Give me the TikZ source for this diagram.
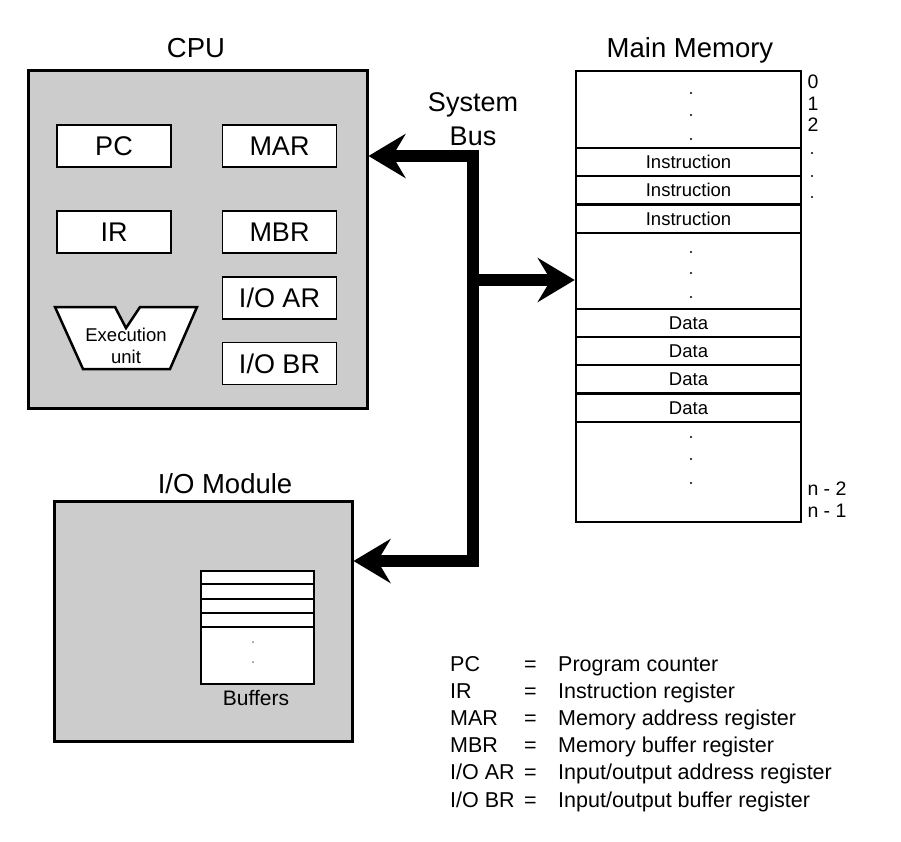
\documentclass[tikz,border=0pt]{standalone}
\usepackage{fontspec}
\setmainfont{Liberation Sans}
\usetikzlibrary{arrows.meta}
\definecolor{boxgray}{RGB}{204,204,204}
\begin{document}
\begin{tikzpicture}[x=1pt,y=-1pt,
  title/.style={font=\fontsize{27.5}{32}\selectfont, anchor=base, inner sep=0pt},
  unitbox/.style={draw, fill=boxgray, line width=3pt, inner sep=0pt},
  reg/.style={draw, fill=white, line width=1.5pt, minimum width=114pt, minimum height=42pt,
    inner sep=0pt, font=\fontsize{27}{30}\selectfont, text height=19.3pt, text depth=0pt},
  word/.style={draw, fill=white, line width=2pt, minimum width=225pt, minimum height=28pt,
    inner sep=0pt, font=\fontsize{18.5}{22}\selectfont, text height=13.2pt, text depth=0pt},
  addr/.style={inner sep=0pt, font=\fontsize{19.5}{22}\selectfont, text height=14pt, text depth=0pt},
  legend/.style={anchor=base west, inner sep=0pt, font=\fontsize{21.5}{26}\selectfont},
  bus/.style={line width=12pt, line join=miter},
  dot/.style={fill=black}
]
\useasboundingbox (0,0) rectangle (901,841);

% ---------------- CPU ----------------
\node[title] (cputitle) at (196,57) {CPU};
\node[unitbox, minimum width=339pt, minimum height=338pt] (cpu) at (197.5,239) {};
\node[reg] (pc)   at (114,146)   {PC};
\node[reg] (mar)  at (279.5,146) {MAR};
\node[reg] (ir)   at (114,232)   {IR};
\node[reg] (mbr)  at (279.5,232) {MBR};
\node[reg] (ioar) at (279.5,298) {I/O AR};
\node[reg] (iobr) at (279.5,363.5) {I/O BR};
% execution unit (ALU-style outline)
\draw[line width=2.5pt, fill=white, line join=miter]
  (55,307) -- (115,307) -- (126,328) -- (140,307) -- (197,307)
  -- (170,369) -- (83,369) -- cycle;
\node[align=center, inner sep=0pt, font=\fontsize{18.5}{22}\selectfont] (eu) at (126,346) {Execution\\unit};

% ---------------- Main memory ----------------
\node[title] (memtitle) at (690,57) {Main Memory};
\node[draw, fill=white, line width=2.5pt, minimum width=225pt, minimum height=451pt, inner sep=0pt]
  (mem) at (688.5,296.5) {};
\node[word] (i1) at (688.5,162)   {Instruction};
\node[word] (i2) at (688.5,190)   {Instruction};
\node[word] (i3) at (688.5,218.5) {Instruction};
\node[word] (d1) at (688.5,323)   {Data};
\node[word] (d2) at (688.5,351)   {Data};
\node[word] (d3) at (688.5,379)   {Data};
\node[word] (d4) at (688.5,407.5) {Data};
\foreach \yy in {93,115,139, 252,273,297, 437,459,483}
  \fill[dot] (691,\yy) circle (1.1pt);
% addresses
\node[addr] (a0) at (813,81)  {0};
\node[addr] (a1) at (813,103) {1};
\node[addr] (a2) at (813,124) {2};
\foreach \yy in {153,176,197}
  \fill[dot] (812,\yy) circle (1.1pt);
\node[addr] (an2) at (827,488) {n - 2};
\node[addr] (an1) at (827,510) {n - 1};

% ---------------- I/O module ----------------
\node[title] (iotitle) at (225,493) {I/O Module};
\node[unitbox, minimum width=298pt, minimum height=240pt] (io) at (203,621) {};
\node[draw, fill=white, line width=1.5pt, minimum width=113pt, minimum height=113pt, inner sep=0pt]
  (buf) at (257.5,627.5) {};
\foreach \yy in {584,599,613,627}
  \draw[line width=1.8pt] (buf.west |- 0,\yy) -- (buf.east |- 0,\yy);
\foreach \yy in {642,662}
  \fill[gray] (253,\yy) circle (1pt);
\node[inner sep=0pt, font=\fontsize{21}{24}\selectfont, text height=15pt, text depth=0pt]
  (buflabel) at (256,698) {Buffers};

% ---------------- System bus ----------------
\node[align=center, inner sep=0pt, font=\fontsize{27}{34}\selectfont] (bustitle) at (473,119) {System\\Bus};
\coordinate (jt) at (473,156);
\coordinate (jm) at (473,280);
\coordinate (jb) at (473,561);
\draw[bus, {Stealth[length=37pt, width=44pt, inset=13pt]}-{Stealth[length=37pt, width=44pt, inset=13pt]}]
  (cpu.east |- jt) -- (jt) -- (jb) -- (io.east |- jb);
\draw[bus, -{Stealth[length=37pt, width=44pt, inset=13pt]}] (jm) -- (mem.west |- jm);

% ---------------- Legend ----------------
\foreach \ab/\txt [count=\i from 0] in
  {PC/Program counter, IR/Instruction register, MAR/Memory address register,
   MBR/Memory buffer register, I\slash O AR/Input\slash output address register,
   I\slash O BR/Input\slash output buffer register}{
  \pgfmathsetmacro{\yb}{671+27.2*\i}
  \node[legend] (lab\i) at (450,\yb) {\ab};
  \node[legend] (eq\i)  at (524,\yb) {=};
  \node[legend] (def\i) at (558,\yb) {\txt};
}
\end{tikzpicture}
\end{document}
